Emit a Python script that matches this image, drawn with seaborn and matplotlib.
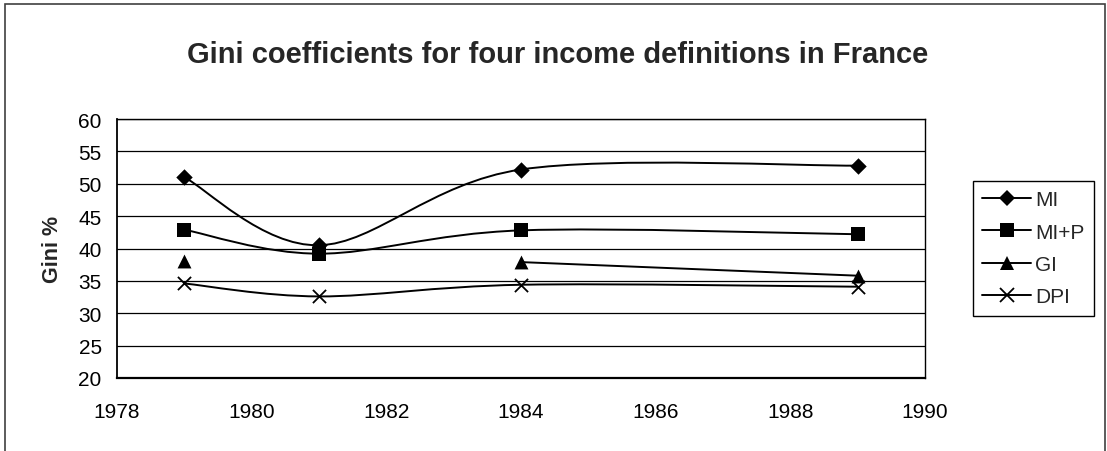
import numpy as np
import pandas as pd
import matplotlib
matplotlib.use("Agg")
import matplotlib.pyplot as plt
import seaborn as sns
from matplotlib.path import Path
from matplotlib.patches import PathPatch, Rectangle
from matplotlib.lines import Line2D

# ---- data ----
years = [1979, 1981, 1984, 1989]
mi = [51.0, 40.5, 52.2, 52.8]
mi_p = [42.9, 39.2, 42.8, 42.2]
gi = [38.0, np.nan, 37.9, 35.8]
dpi = [34.6, 32.6, 34.4, 34.1]
series_names = ["MI", "MI+P", "GI", "DPI"]
series_values = [mi, mi_p, gi, dpi]
y_ticks = list(range(20, 61, 5))
x_ticks = list(range(1978, 1991, 2))
title = "Gini coefficients for four income definitions in France"
y_label = "Gini %"

df = pd.DataFrame({
    "year": np.tile(years, len(series_names)),
    "gini": np.concatenate([np.array(v, dtype=float) for v in series_values]),
    "series": np.repeat(series_names, len(years)),
})

sns.set_style("white")
plt.rcParams['font.family'] = ['Liberation Sans', 'DejaVu Sans']

W, H = 1107, 452
fig = plt.figure(figsize=(W / 100, H / 100), dpi=100)
ax = fig.add_axes([117 / W, 1 - 379 / H, (925 - 117) / W, (379 - 120) / H])

markers = {"MI": ("D", 70), "MI+P": ("s", 100), "GI": ("^", 100), "DPI": ("x", 90)}


def smooth_segments(xs, ys):
    """Excel-like smoothed line: cubic Bezier (Catmull-Rom) through the data points."""
    pts = [(x, y) for x, y in zip(xs, ys)]
    segs, cur = [], []
    for p in pts:
        if np.isnan(p[1]):
            if cur:
                segs.append(cur)
            cur = []
        else:
            cur.append(np.array(p, dtype=float))
    if cur:
        segs.append(cur)
    paths = []
    for s in segs:
        if len(s) < 2:
            continue
        verts = [s[0]]
        codes = [Path.MOVETO]
        n = len(s)
        for i in range(n - 1):
            p0 = s[i - 1] if i > 0 else s[i]
            p1 = s[i]
            p2 = s[i + 1]
            p3 = s[i + 2] if i + 2 < n else s[i + 1]
            c1 = p1 + (p2 - p0) / 6.0
            c2 = p2 - (p3 - p1) / 6.0
            verts += [c1, c2, p2]
            codes += [Path.CURVE4] * 3
        paths.append(Path(verts, codes))
    return paths


for name in series_names:
    sub = df[df["series"] == name]
    for p in smooth_segments(sub["year"].values, sub["gini"].values):
        ax.add_patch(PathPatch(p, facecolor="none", edgecolor="black", lw=1.4, zorder=3))
    m, s = markers[name]
    sns.scatterplot(data=sub.dropna(), x="year", y="gini", marker=m, s=s,
                    color="black", edgecolor="black",
                    linewidth=1.3 if m == "x" else 0, ax=ax, zorder=4, legend=False)

ax.set_xlim(1978, 1990)
ax.set_ylim(20, 60)
ax.set_xticks(x_ticks)
ax.set_yticks(y_ticks)
ax.set_xticklabels([str(t) for t in x_ticks])
ax.set_yticklabels([str(t) for t in y_ticks])
ax.yaxis.grid(True, color="black", lw=0.9)
ax.xaxis.grid(False)
for sp in ax.spines.values():
    sp.set_color("black")
    sp.set_linewidth(1.0)
ax.spines["bottom"].set_linewidth(1.6)
ax.spines["left"].set_linewidth(1.3)
ax.tick_params(axis="both", direction="out", length=5, width=0.9, color="black",
               labelsize=15, labelcolor="black")
ax.tick_params(axis="y", pad=6)
ax.tick_params(axis="x", pad=12)
ax.set_xlabel("")
ax.set_ylabel(y_label, fontsize=15.5, fontweight="bold", labelpad=11)

fig.text(0.504, 1 - 55 / H, title, ha="center", va="center",
         fontsize=21, fontweight="bold")

handles = [Line2D([], [], color="black", lw=1.4, marker=markers[n][0],
                  markersize={"D": 8, "s": 10, "^": 10, "x": 9.5}[markers[n][0]],
                  markeredgewidth=1.3 if markers[n][0] == "x" else 0,
                  markerfacecolor="black", markeredgecolor="black")
           for n in series_names]
leg = fig.legend(handles, series_names, loc="upper left",
                 bbox_to_anchor=(973 / W, 1 - 182 / H), bbox_transform=fig.transFigure,
                 borderaxespad=0, fontsize=15, handlelength=2.35, handletextpad=0.2,
                 labelspacing=0.64, borderpad=0.45, fancybox=False, framealpha=1,
                 edgecolor="black")
leg.get_frame().set_linewidth(1.0)

fig.patches.append(Rectangle((4.5 / W, -0.01), (1105 - 4.5) / W, 1.0 - 4.5 / H + 0.01,
                             transform=fig.transFigure, fill=False,
                             edgecolor="#404040", lw=1.2))

fig.savefig("out.png", dpi=100)
